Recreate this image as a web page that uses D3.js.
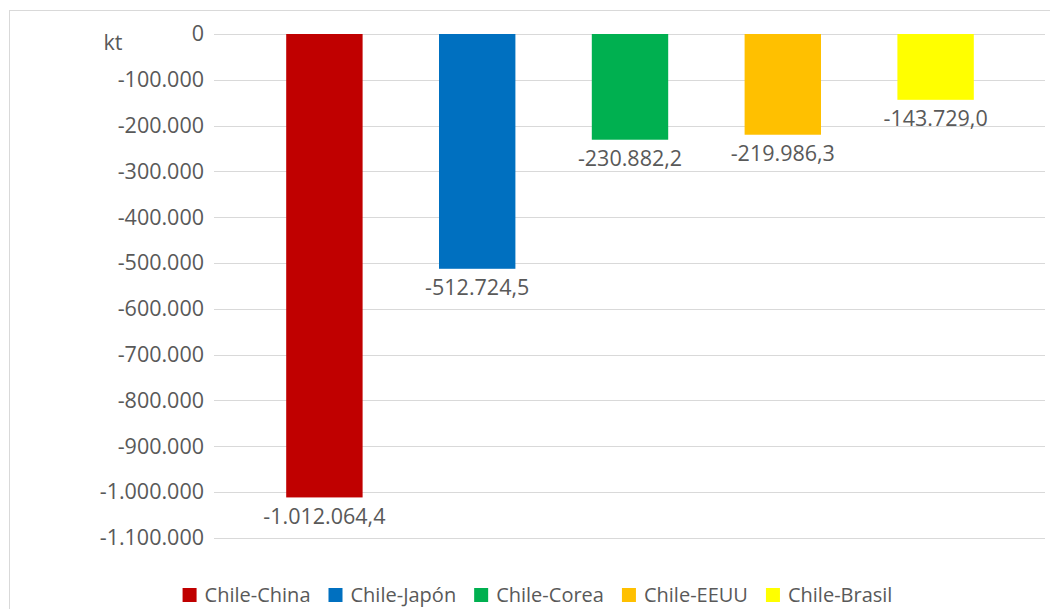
<!DOCTYPE html>
<html><head><meta charset="utf-8">
<script src="https://cdn.jsdelivr.net/npm/d3@7"></script>
<style>body{margin:0;background:#fff}svg{display:block}</style>
</head><body>
<svg id="c" width="1050" height="609"></svg>
<script>
const series = ["Chile-China","Chile-Japón","Chile-Corea","Chile-EEUU","Chile-Brasil"];
const values = [-1012064.4,-512724.5,-230882.2,-219986.3,-143729.0];
const colors = ["#C00000","#0070C0","#00B050","#FFC000","#FFFF00"];
const yTicks = [0,-100000,-200000,-300000,-400000,-500000,-600000,-700000,-800000,-900000,-1000000,-1100000];
const unitLabel = "kt";

const FONT = "'Open Sans', sans-serif";
const FS = 21.5;
const FSL = 20;
const TXT = "#595959";
const loc = d3.formatLocale({decimal:",",thousands:".",grouping:[3],currency:["",""],minus:"-"});
const fTick = loc.format(",.0f");
const fVal = loc.format(",.1f");

const svg = d3.select("#c");
svg.append("rect").attr("x",9.5).attr("y",10.5).attr("width",1100).attr("height",700)
  .attr("fill","#fff").attr("stroke","#d9d9d9").attr("stroke-width",1);

const y = d3.scaleLinear().domain([0,-1100000]).range([34,537.7]);
const x = d3.scaleBand().domain(series).range([248,1012]).paddingInner(0.5).paddingOuter(0.25);

const gridX0 = 214, gridX1 = 1045;
const g = svg.append("g");
g.selectAll("line.grid").data(yTicks).join("line").attr("class","grid")
  .attr("x1",gridX0).attr("x2",gridX1)
  .attr("y1",d=>Math.round(y(d))+0.5).attr("y2",d=>Math.round(y(d))+0.5)
  .attr("stroke","#d9d9d9").attr("stroke-width",1.2);

const axis = d3.axisLeft(y).tickValues(yTicks).tickFormat(fTick).tickSize(0).tickPadding(0);
const ag = svg.append("g").attr("transform",`translate(${gridX0-10},0)`).call(axis);
ag.select(".domain").remove();
ag.selectAll("text").attr("font-family",FONT).attr("font-size",FS).attr("fill",TXT);

svg.append("text").attr("x",113).attr("y",50).attr("text-anchor","middle")
  .attr("font-family",FONT).attr("font-size",FS).attr("fill",TXT).text(unitLabel);

svg.selectAll("rect.bar").data(series).join("rect").attr("class","bar")
  .attr("x",d=>x(d)).attr("width",x.bandwidth())
  .attr("y",y(0)).attr("height",(d,i)=>y(values[i])-y(0))
  .attr("fill",(d,i)=>colors[i]);

svg.selectAll("text.val").data(series).join("text").attr("class","val")
  .attr("x",d=>x(d)+x.bandwidth()/2).attr("y",(d,i)=>y(values[i])+26.5)
  .attr("text-anchor","middle").attr("font-family",FONT).attr("font-size",FS).attr("fill",TXT)
  .text((d,i)=>fVal(values[i]));

// legend
const lg = svg.append("g");
let cx = 178;
series.forEach((s,i)=>{
  lg.append("rect").attr("x",cx).attr("y",588).attr("width",14).attr("height",14).attr("fill",colors[i]);
  const t = lg.append("text").attr("x",cx+22).attr("y",602).attr("font-family",FONT).attr("font-size",FSL)
    .attr("fill",TXT).text(s);
  cx += 22 + t.node().getComputedTextLength() + 18;
});
const lw = cx - 18 - 178;
lg.attr("transform",`translate(${537.5 - (178+lw/2)},0)`);
</script>
</body></html>
